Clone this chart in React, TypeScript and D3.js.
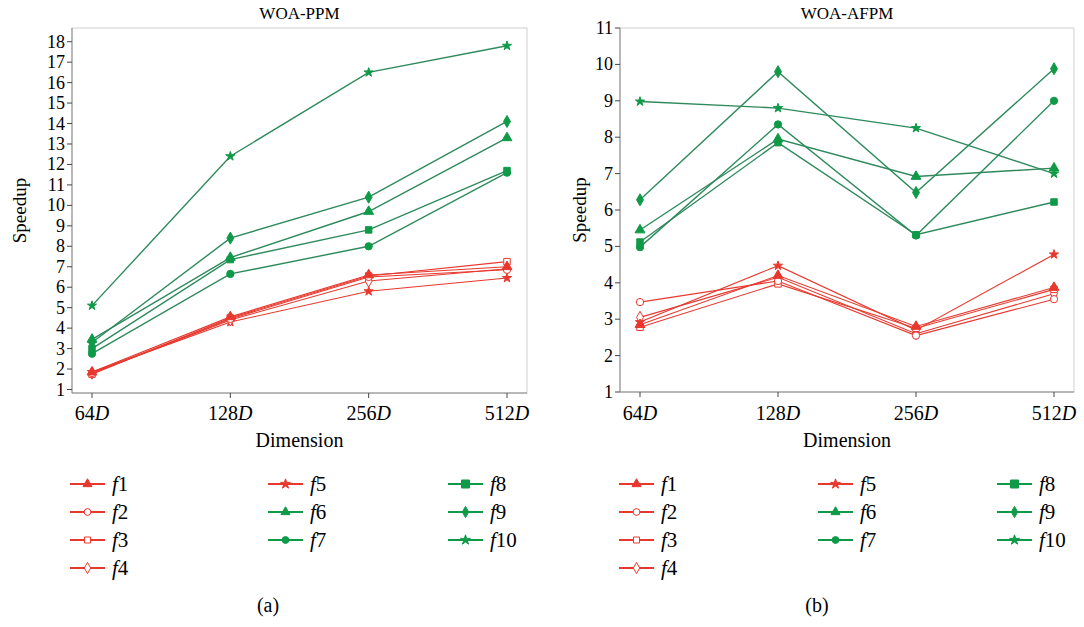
import React from "react";
import * as d3 from "d3";

const dims = ["64", "128", "256", "512"];
const funcNames = ["f1", "f2", "f3", "f4", "f5", "f6", "f7", "f8", "f9", "f10"];

// WOA-PPM speedups
const ppmF1 = [1.85, 4.55, 6.6, 7.0];
const ppmF2 = [1.8, 4.45, 6.5, 6.85];
const ppmF3 = [1.75, 4.5, 6.55, 7.25];
const ppmF4 = [1.8, 4.4, 6.3, 6.9];
const ppmF5 = [1.85, 4.3, 5.8, 6.45];
const ppmF6 = [3.45, 7.45, 9.7, 13.3];
const ppmF7 = [2.75, 6.65, 8.0, 11.6];
const ppmF8 = [3.0, 7.35, 8.8, 11.7];
const ppmF9 = [3.3, 8.4, 10.4, 14.1];
const ppmF10 = [5.1, 12.4, 16.5, 17.8];

// WOA-AFPM speedups
const afF1 = [2.85, 4.2, 2.8, 3.87];
const afF2 = [3.47, 4.05, 2.55, 3.55];
const afF3 = [2.78, 3.97, 2.75, 3.82];
const afF4 = [3.05, 4.15, 2.6, 3.7];
const afF5 = [2.92, 4.47, 2.7, 4.78];
const afF6 = [5.45, 7.95, 6.92, 7.15];
const afF7 = [4.98, 8.35, 5.3, 9.0];
const afF8 = [5.12, 7.85, 5.32, 6.22];
const afF9 = [6.28, 9.8, 6.48, 9.88];
const afF10 = [8.98, 8.8, 8.25, 7.0];

const ppmTicks = d3.range(1, 19);
const afTicks = d3.range(1, 12);

const RED = "#e8382e";
const GREEN = "#0f9a48";
const GREEN_LINE = "#2e8a5c";
const FONT = "'Liberation Serif', 'Times New Roman', serif";

type Shape = "triangle" | "circle" | "square" | "diamond" | "star";
const shapes: Shape[] = ["triangle", "circle", "square", "diamond", "star", "triangle", "circle", "square", "diamond", "star"];
const filled = [true, false, false, false, true, true, true, true, true, true];
const isRed = [true, true, true, true, true, false, false, false, false, false];

const symType: Record<Shape, d3.SymbolType> = {
  triangle: d3.symbolTriangle,
  circle: d3.symbolCircle,
  square: d3.symbolSquare,
  diamond: d3.symbolDiamond,
  star: d3.symbolStar,
};

function Marker({ shape, x, y, size, red, fill }: { shape: Shape; x: number; y: number; size: number; red: boolean; fill: boolean }) {
  const c = red ? RED : GREEN;
  const d = d3.symbol().type(symType[shape]).size(size)() as string;
  return (
    <path
      d={d}
      transform={`translate(${x},${y})`}
      fill={fill ? c : "white"}
      stroke={c}
      strokeWidth={1}
    />
  );
}

function Panel({
  left, right, top, bottom, domain, ticks, series, title, ylabOff,
}: {
  left: number; right: number; top: number; bottom: number;
  domain: [number, number]; ticks: number[]; series: number[][]; title: string; ylabOff: number;
}) {
  const x = d3.scalePoint<string>().domain(dims).range([left + 20, right - 20]);
  const yTop = domain[1] === 18 ? 41.7 : top;
  const yBot = domain[1] === 18 ? 389.5 : 392;
  const y = d3.scaleLinear().domain(domain).range([yBot, yTop]);
  const line = d3.line<number>().x((_, i) => x(dims[i]) as number).y((v) => y(v));
  const order = [4, 3, 2, 1, 0, 6, 7, 5, 8, 9];
  return (
    <g fontFamily={FONT}>
      <text x={(left + right) / 2} y={19} textAnchor="middle" fontSize={17}>{title}</text>
      <rect x={left} y={top} width={right - left} height={bottom - top} fill="none" stroke="#d0d0d0" strokeWidth={1} />
      <line x1={left} x2={left} y1={top} y2={bottom} stroke="#888" />
      <line x1={left} x2={right} y1={bottom} y2={bottom} stroke="#888" />
      {ticks.map((t) => (
        <g key={t}>
          <line x1={left - 5} x2={left} y1={y(t)} y2={y(t)} stroke="#444" />
          <text x={left - 7} y={y(t) + 6} textAnchor="end" fontSize={18}>{t}</text>
        </g>
      ))}
      {dims.map((dm) => (
        <g key={dm}>
          <line x1={x(dm)} x2={x(dm)} y1={bottom} y2={bottom + 5} stroke="#444" />
          <text x={x(dm)} y={420} textAnchor="middle" fontSize={20}>
            {dm}<tspan fontStyle="italic">D</tspan>
          </text>
        </g>
      ))}
      <text x={(left + right) / 2} y={447} textAnchor="middle" fontSize={20}>Dimension</text>
      <text transform={`translate(${left - ylabOff},${(top + bottom) / 2}) rotate(-90)`} textAnchor="middle" fontSize={19}>Speedup</text>
      {order.map((k) => (
        <path key={"l" + k} d={line(series[k]) as string} fill="none" stroke={isRed[k] ? RED : GREEN_LINE} strokeWidth={isRed[k] ? 1.1 : 1.4} />
      ))}
      {order.map((k) =>
        series[k].map((v, i) => (
          <Marker key={"m" + k + "-" + i} shape={shapes[k]} x={x(dims[i]) as number} y={y(v)} size={shapes[k] === "star" ? 26 : 42} red={isRed[k]} fill={filled[k]} />
        ))
      )}
    </g>
  );
}

function Legend({ cols, label, labelX }: { cols: number[]; label: string; labelX: number }) {
  const rowY = [484, 512, 540, 568];
  const groups = [[0, 1, 2, 3], [4, 5, 6], [7, 8, 9]];
  return (
    <g fontFamily={FONT}>
      {groups.map((g, gi) =>
        g.map((k, ri) => {
          const x0 = cols[gi];
          const yy = rowY[ri];
          return (
            <g key={k}>
              <line x1={x0} x2={x0 + 35} y1={yy} y2={yy} stroke={isRed[k] ? RED : GREEN} strokeWidth={2} />
              <Marker shape={shapes[k]} x={x0 + 17.5} y={yy} size={shapes[k] === "square" && !isRed[k] ? 64 : shapes[k] === "star" ? 30 : 36} red={isRed[k]} fill={filled[k]} />
              <text x={x0 + 42} y={yy + 7} fontSize={21}>
                <tspan fontStyle="italic">f</tspan>{funcNames[k].slice(1)}
              </text>
            </g>
          );
        })
      )}
      <text x={labelX} y={612} textAnchor="middle" fontSize={20}>{label}</text>
    </g>
  );
}

export default function App() {
  const ppm = [ppmF1, ppmF2, ppmF3, ppmF4, ppmF5, ppmF6, ppmF7, ppmF8, ppmF9, ppmF10];
  const af = [afF1, afF2, afF3, afF4, afF5, afF6, afF7, afF8, afF9, afF10];
  return (
    <svg width={1084} height={627} style={{ position: "absolute", left: 0, top: 0, background: "white" }}>
      <rect width={1084} height={627} fill="white" />
      <Panel left={72} right={527} top={28} bottom={393} domain={[1, 18]} ticks={ppmTicks} series={ppm} title="WOA-PPM" ylabOff={46} />
      <Panel left={620} right={1074} top={28} bottom={392} domain={[1, 11]} ticks={afTicks} series={af} title="WOA-AFPM" ylabOff={34} />
      <Legend cols={[70, 268, 448]} label="(a)" labelX={268} />
      <Legend cols={[619, 818, 997]} label="(b)" labelX={817} />
    </svg>
  );
}
